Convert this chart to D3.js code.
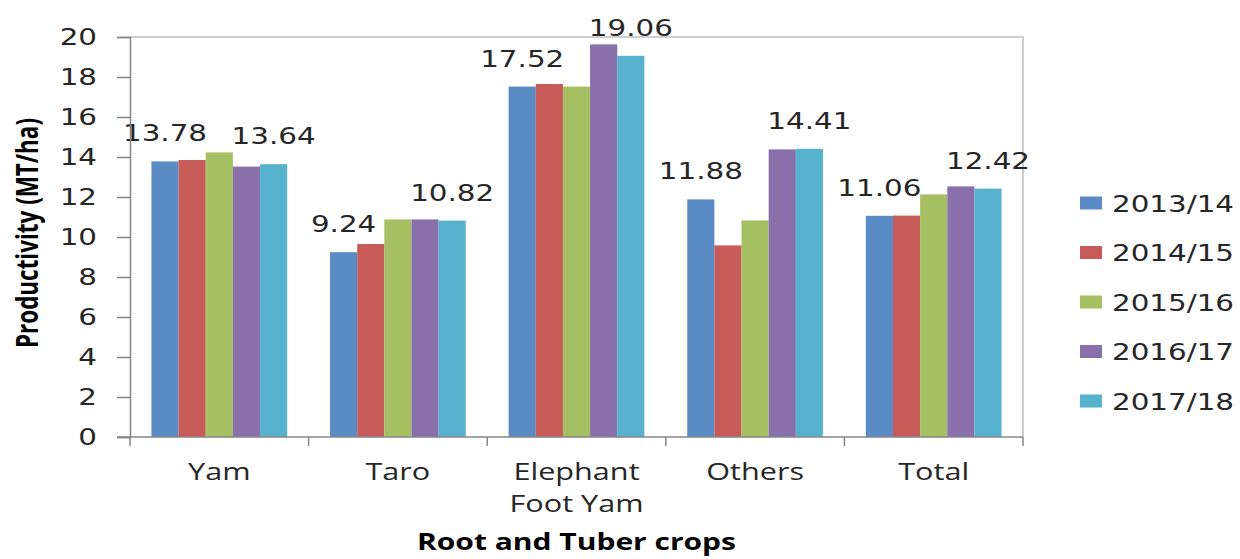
<!DOCTYPE html>
<html>
<head>
<meta charset="utf-8">
<script src="https://cdn.jsdelivr.net/npm/d3@7"></script>
<style>
  body { margin: 0; background: #fff; }
  svg { display: block; }
</style>
</head>
<body>
<div id="chart"></div>
<script>
// Chart data
const categories = ["Yam", "Taro", "Elephant Foot Yam", "Others", "Total"];
const seasons = ["2013/14", "2014/15", "2015/16", "2016/17", "2017/18"];
const yam      = [13.78, 13.85, 14.23, 13.52, 13.64];
const taro     = [9.24, 9.65, 10.88, 10.88, 10.82];
const efy      = [17.52, 17.65, 17.52, 19.63, 19.06];
const others   = [11.88, 9.58, 10.83, 14.38, 14.41];
const total    = [11.06, 11.07, 12.13, 12.53, 12.42];
const yTicks   = [0, 2, 4, 6, 8, 10, 12, 14, 16, 18, 20];
const labelledSeasons = ["2013/14", "2017/18"];

const values = [yam, taro, efy, others, total];
const rows = categories.map((c, i) => ({
    category: c,
    bars: seasons.map((s, j) => ({ season: s, value: values[i][j] }))
}));

const W = 1240, H = 559;
const SX = 1.25; // text in the reference is stretched horizontally
const plot = { left: 130, right: 1023, top: 37, bottom: 437 };

const svg = d3.select("#chart").append("svg")
    .attr("width", W)
    .attr("height", H);

// stretched text helper
function addText(parent, x, y, str, opts) {
    const t = parent.append("text")
        .attr("transform", `translate(${x},${y}) scale(${SX},1)` + (opts.rotate ? ` rotate(${opts.rotate})` : ""))
        .attr("text-anchor", opts.anchor || "middle")
        .style("font-family", opts.family || "'DejaVu Sans', sans-serif")
        .style("font-size", opts.size + "px")
        .style("font-weight", opts.weight || "normal")
        .attr("fill", opts.fill || "#262626")
        .text(str);
    if (opts.dy) t.attr("dy", opts.dy);
    if (opts.length) t.attr("textLength", opts.length).attr("lengthAdjust", "spacingAndGlyphs");
    return t;
}

// Scales
const x0 = d3.scaleBand()
    .domain(categories)
    .range([plot.left, plot.right]);

const inner = x0.bandwidth() * 0.12;
const x1 = d3.scaleBand()
    .domain(seasons)
    .range([inner, x0.bandwidth() - inner]);

const y = d3.scaleLinear()
    .domain([0, 20])
    .range([plot.bottom, plot.top]);

const color = d3.scaleOrdinal()
    .domain(seasons)
    .range(["#5b8bc5", "#c65b57", "#a5bf63", "#8a70aa", "#57b3cd"]);

// Plot area border (top and right)
svg.append("path")
    .attr("d", `M${plot.left},${plot.top}H${plot.right}V${plot.bottom}`)
    .attr("fill", "none")
    .attr("stroke", "#bfbfbf")
    .attr("stroke-width", 1.5);

// Bars
const groups = svg.selectAll(".cat")
    .data(rows)
    .join("g")
    .attr("class", "cat")
    .attr("transform", d => `translate(${x0(d.category)},0)`);

groups.selectAll("rect")
    .data(d => d.bars)
    .join("rect")
    .attr("x", d => x1(d.season))
    .attr("y", d => y(d.value))
    .attr("width", x1.bandwidth())
    .attr("height", d => y(0) - y(d.value))
    .attr("fill", d => color(d.season));

// Data labels for first and last season
groups.each(function(d) {
    const g = d3.select(this);
    d.bars.filter(b => labelledSeasons.includes(b.season)).forEach(b => {
        addText(g, x1(b.season) + x1.bandwidth() / 2, y(b.value) - 20,
            d3.format(".2f")(b.value), { size: 23.5 });
    });
});

// Y axis
const yAxis = svg.append("g")
    .attr("transform", `translate(${plot.left},0)`)
    .call(d3.axisLeft(y).tickValues(yTicks).tickSize(13).tickFormat(""));
yAxis.selectAll("path, line").attr("stroke", "#868686").attr("stroke-width", 1.5);

yTicks.forEach(t => {
    addText(svg, 97, y(t), t, { size: 23.5, anchor: "end", dy: "0.36em" });
});

// X axis
svg.append("line")
    .attr("x1", plot.left - 13).attr("x2", plot.right)
    .attr("y1", plot.bottom).attr("y2", plot.bottom)
    .attr("stroke", "#868686").attr("stroke-width", 1.5);

const boundaries = categories.map(c => x0(c)).concat([plot.right]);
svg.selectAll(".xtick")
    .data(boundaries)
    .join("line")
    .attr("class", "xtick")
    .attr("x1", d => d).attr("x2", d => d)
    .attr("y1", plot.bottom).attr("y2", plot.bottom + 9)
    .attr("stroke", "#868686").attr("stroke-width", 1.5);

const wrapped = { "Elephant Foot Yam": ["Elephant", "Foot Yam"] };
categories.forEach(c => {
    const lines = wrapped[c] || [c];
    lines.forEach((ln, i) => {
        addText(svg, x0(c) + x0.bandwidth() / 2, 480 + i * 32, ln,
            { size: 24.5, family: "'Open Sans', sans-serif" });
    });
});

// Axis titles
addText(svg, (plot.left + plot.right) / 2, 550, "Root and Tuber crops",
    { size: 24, weight: "bold", family: "'Open Sans', sans-serif", fill: "#000" });

addText(svg, 38, 233, "Productivity (MT/ha)",
    { size: 24, weight: "bold", family: "'Open Sans', sans-serif", fill: "#000",
      rotate: -90, length: 230 });

// Legend
const legend = svg.append("g")
    .attr("transform", "translate(1080,0)");

seasons.forEach((s, i) => {
    const cy = 203 + i * 49.5;
    legend.append("rect")
        .attr("x", 0)
        .attr("y", cy - 6.5)
        .attr("width", 22)
        .attr("height", 13)
        .attr("fill", color(s));
    addText(legend, 32, cy + 8.5, s, { size: 23.5, anchor: "start" });
});
</script>
</body>
</html>
